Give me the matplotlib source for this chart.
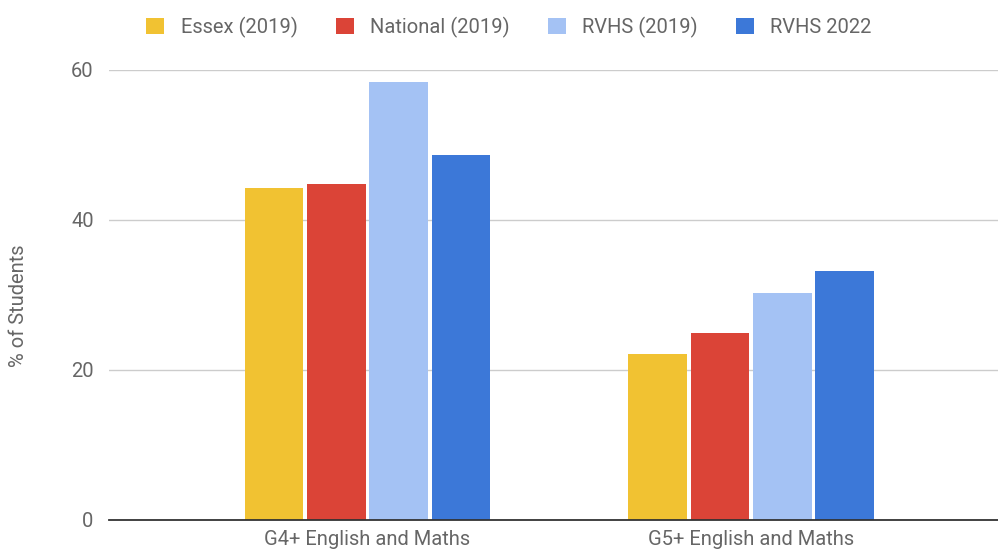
import numpy as np
import matplotlib.pyplot as plt

plt.rcParams['font.family'] = ['Roboto', 'DejaVu Sans']

categories = ['G4+ English and Maths', 'G5+ English and Maths']
series = ['Essex (2019)', 'National (2019)', 'RVHS (2019)', 'RVHS 2022']
essex = [44.3, 22.1]
national = [44.8, 24.9]
rvhs_2019 = [58.4, 30.3]
rvhs_2022 = [48.6, 33.2]
colors = ['#F1C232', '#DB4437', '#A4C2F4', '#3C78D8']

values = [essex, national, rvhs_2019, rvhs_2022]

fig = plt.figure(figsize=(9.98, 5.51), dpi=100)
ax = fig.add_axes([0.1092, 0.0563, 0.8908, 0.8167])

x = np.arange(len(categories))
step = 0.1625
width = 0.153
for i, (name, vals) in enumerate(zip(series, values)):
    ax.bar(x + (i - 1.5) * step, vals, width, color=colors[i], label=name, zorder=3)

fs = 14.5
ax.set_xlim(-0.674, 1.644)
ax.set_ylim(0, 60)
ax.set_yticks([0, 20, 40, 60])
ax.set_xticks(x)
ax.set_xticklabels(categories)
ax.tick_params(axis='both', length=0, labelsize=fs, labelcolor='#666666')
ax.tick_params(axis='y', pad=11)
ax.tick_params(axis='x', pad=7)
ax.yaxis.grid(True, color='#cccccc', linewidth=1, zorder=0)
for s in ['top', 'right', 'left']:
    ax.spines[s].set_visible(False)
ax.spines['bottom'].set_color('#333333')
ax.spines['bottom'].set_linewidth(1.3)
ax.spines['bottom'].set_zorder(4)

ax.set_ylabel('% of Students', fontsize=fs, color='#666666')
ax.yaxis.set_label_coords(-0.091, 0.476)

fig.legend(loc='center', bbox_to_anchor=(0.51, 0.951), ncol=4, frameon=False,
           fontsize=fs, handlelength=0.9, handleheight=0.9, columnspacing=1.9,
           handletextpad=0.8, labelcolor='#666666')

fig.savefig('out.png', dpi=100)
